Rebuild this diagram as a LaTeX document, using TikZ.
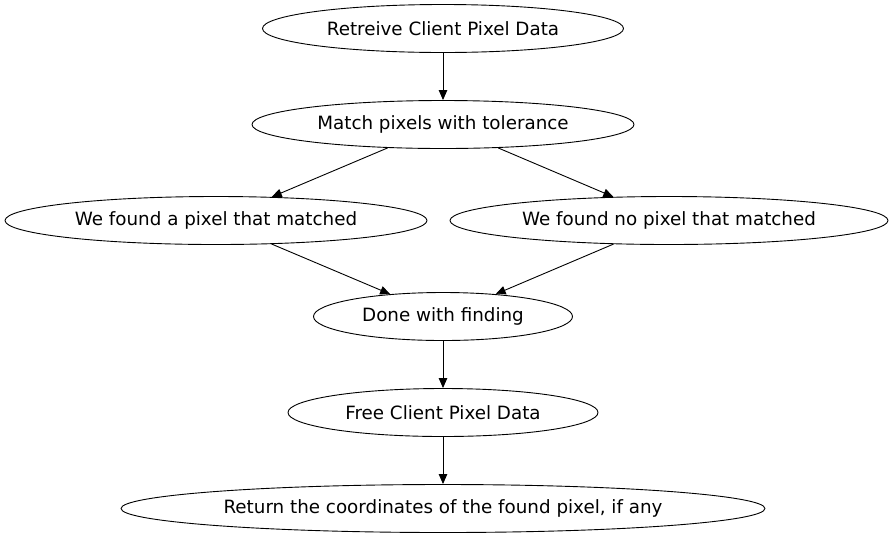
\documentclass[tikz,border=0pt]{standalone}
\usepackage{fontspec}
\setmainfont{DejaVu Sans}
\usetikzlibrary{arrows.meta}
\usetikzlibrary{shapes.geometric}

\begin{document}
\begin{tikzpicture}[x=1pt,y=-1pt,line cap=round,line join=round,
  state/.style={draw,ellipse,line width=0.9pt,inner sep=0pt,minimum height=48pt,font=\fontsize{18.3}{22}\selectfont},
  flow/.style={-{Triangle[length=10pt,width=8.5pt]},line width=0.9pt}]
\useasboundingbox (0,0) rectangle (893,539);
\node[state,minimum width=361pt] (retrieve) at (443,28.5) {Retreive Client Pixel Data};
\node[state,minimum width=382pt] (match) at (443,124.5) {Match pixels with tolerance};
\node[state,minimum width=422pt] (found) at (216,220.5) {We found a pixel that matched};
\node[state,minimum width=438pt] (notfound) at (669,220.5) {We found no pixel that matched};
\node[state,minimum width=259pt] (done) at (443,316.5) {Done with finding};
\node[state,minimum width=310pt] (free) at (443,412.5) {Free Client Pixel Data};
\node[state,minimum width=644pt] (result) at (443,508.5) {Return the coordinates of the found pixel, if any};
\draw[flow] (retrieve) -- (match);
\draw[flow] (match) -- (found);
\draw[flow] (match) -- (notfound);
\draw[flow] (found) -- (done);
\draw[flow] (notfound) -- (done);
\draw[flow] (done) -- (free);
\draw[flow] (free) -- (result);
\end{tikzpicture}
\end{document}
